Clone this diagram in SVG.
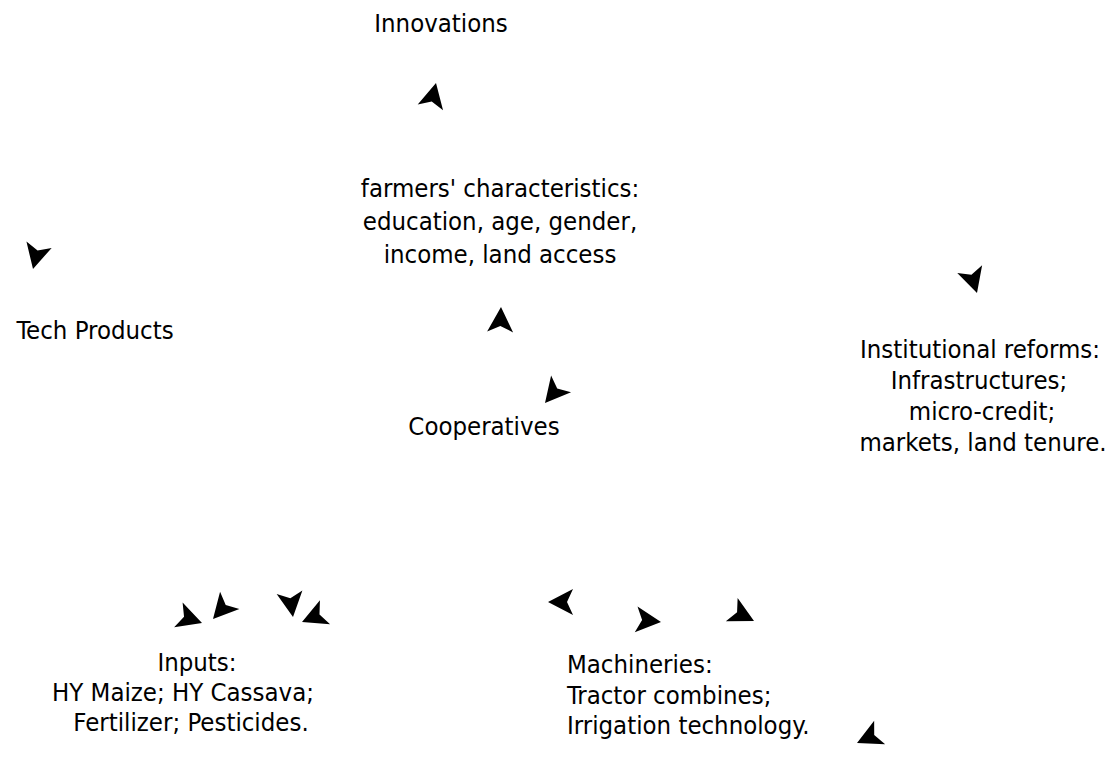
<svg xmlns="http://www.w3.org/2000/svg" xmlns:xlink="http://www.w3.org/1999/xlink" width="1111" height="775" viewBox="0 0 1111 775">
<style>
.t{font-family:"DejaVu Sans Condensed","DejaVu Sans","Liberation Sans",sans-serif;font-size:25.5px;fill:#000;}
.c{text-anchor:middle;}
.ah{fill:#000;stroke:none;}
</style>
<defs>
<path id="ah" d="M0,0 L-25,-13 L-19,0 L-25,13 Z"/>
</defs>
<rect width="1111" height="775" fill="#fff"/>
<g id="innovations"><text class="t c" x="441" y="32">Innovations</text></g>
<g id="farmers"><text class="t c" x="500" y="197">farmers' characteristics:</text><text class="t c" x="500" y="230">education, age, gender,</text><text class="t c" x="500" y="263">income, land access</text></g>
<g id="tech"><text class="t c" x="95" y="339">Tech Products</text></g>
<g id="institutional"><text class="t c" x="980" y="358">Institutional reforms:</text><text class="t c" x="979" y="389">Infrastructures;</text><text class="t c" x="982" y="420">micro-credit;</text><text class="t c" x="983" y="451">markets, land tenure.</text></g>
<g id="cooperatives"><text class="t c" x="484" y="435">Cooperatives</text></g>
<g id="inputs"><text class="t c" x="197" y="671">Inputs:</text><text class="t c" x="183" y="701">HY Maize; HY Cassava;</text><text class="t c" x="191" y="731">Fertilizer; Pesticides.</text></g>
<g id="machineries"><text class="t" x="567" y="673">Machineries:</text><text class="t" x="567" y="704">Tractor combines;</text><text class="t" x="567" y="734">Irrigation technology.</text></g>
<g id="connectors" class="ah">
<use xlink:href="#ah" transform="translate(436,83) rotate(-77)"/>
<use xlink:href="#ah" transform="translate(33,269) rotate(104)"/>
<use xlink:href="#ah" transform="translate(501,307) rotate(-88)"/>
<use xlink:href="#ah" transform="translate(545,403) rotate(130)"/>
<use xlink:href="#ah" transform="translate(977,293) rotate(73)"/>
<use xlink:href="#ah" transform="translate(202,623) rotate(19)"/>
<use xlink:href="#ah" transform="translate(213,619) rotate(132)"/>
<use xlink:href="#ah" transform="translate(293,617) rotate(82)"/>
<use xlink:href="#ah" transform="translate(302,622) rotate(157)"/>
<use xlink:href="#ah" transform="translate(548,602) rotate(180)"/>
<use xlink:href="#ah" transform="translate(661,622) rotate(6)"/>
<use xlink:href="#ah" transform="translate(754,621) rotate(27)"/>
<use xlink:href="#ah" transform="translate(857,743) rotate(155)"/>
</g>
</svg>
